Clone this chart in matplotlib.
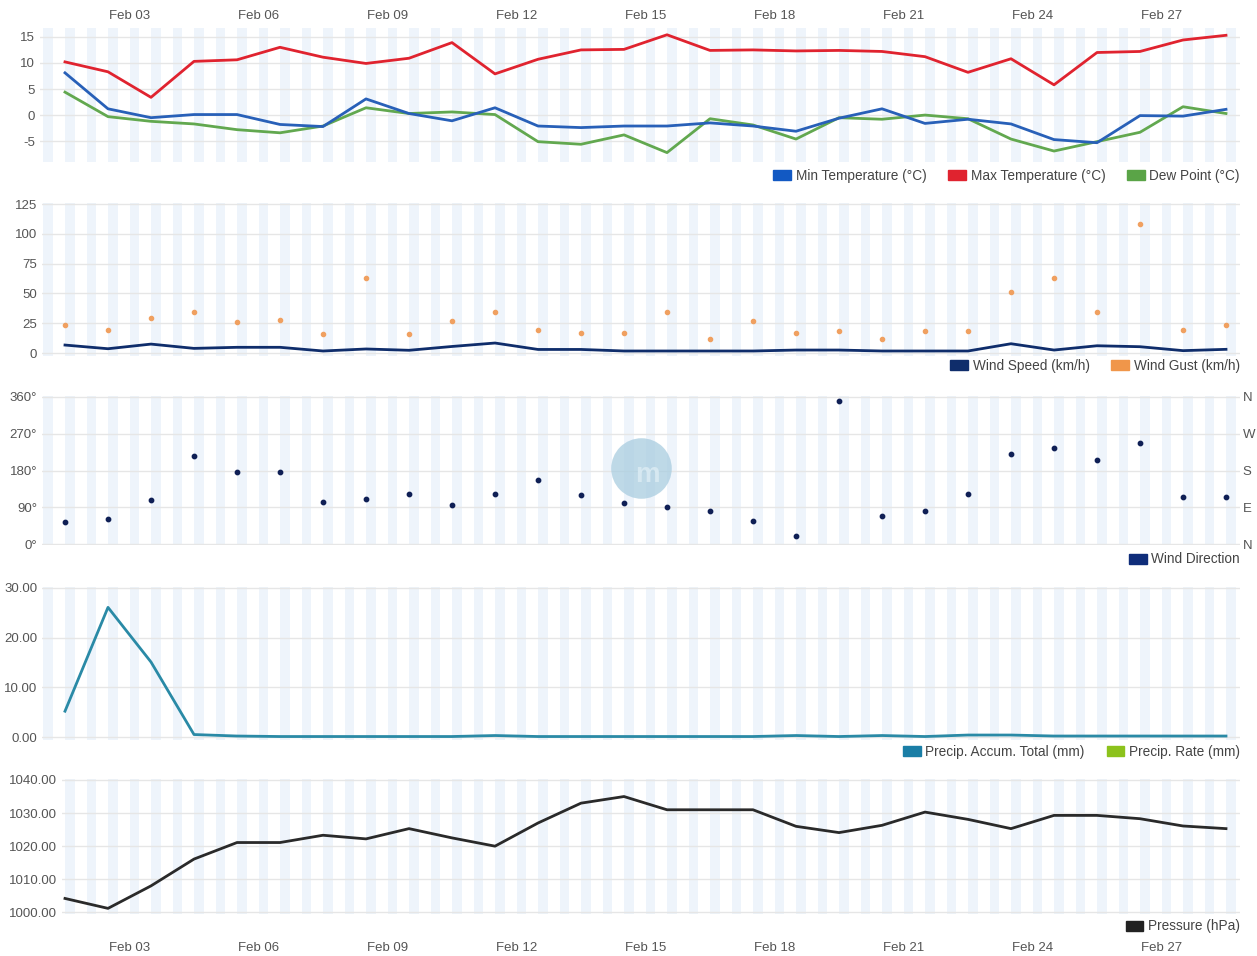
"""Monthly weather summary panels (February)."""

import matplotlib

matplotlib.use("Agg")
import matplotlib.pyplot as plt
import numpy as np
from matplotlib.patches import Patch

plt.rcParams["font.family"] = ["Liberation Sans", "DejaVu Sans"]

# one reading per day, plotted at noon (day number 1.5 = Feb 01 12:00)
days = np.arange(1, 29) + 0.5

min_temp = [8.1, 1.2, -0.5, 0.1, 0.1, -1.8, -2.2, 3.1, 0.3, -1.1, 1.4, -2.1, -2.4, -2.1,
            -2.1, -1.5, -2.1, -3.1, -0.6, 1.2, -1.6, -0.8, -1.7, -4.7, -5.3, -0.1, -0.2, 1.1]
max_temp = [10.2, 8.3, 3.4, 10.3, 10.6, 13.0, 11.1, 9.9, 10.9, 13.9, 7.9, 10.7, 12.5, 12.6,
            15.4, 12.4, 12.5, 12.3, 12.4, 12.2, 11.2, 8.2, 10.8, 5.8, 12.0, 12.2, 14.4, 15.3]
dew_point = [4.4, -0.3, -1.2, -1.7, -2.8, -3.4, -2.1, 1.4, 0.3, 0.6, 0.1, -5.1, -5.6, -3.8,
             -7.2, -0.7, -1.9, -4.6, -0.5, -0.8, 0.0, -0.7, -4.6, -6.9, -5.1, -3.3, 1.6, 0.3]

wind_speed = [6.7, 3.6, 7.5, 3.9, 4.8, 4.8, 1.7, 3.4, 2.3, 5.5, 8.4, 3.0, 3.0, 1.7,
              1.7, 1.7, 1.7, 2.5, 2.5, 1.7, 1.7, 1.7, 7.8, 2.5, 6.1, 5.3, 2.0, 3.1]
wind_gust = [23.5, 19, 29.6, 34.2, 26.3, 27.4, 16.2, 63.1, 16.2, 27, 34.2, 19.5, 16.5, 16.5,
             34.2, 11.5, 27, 16.5, 18.5, 11.7, 18.5, 18.5, 51.5, 63.3, 34.2, 108, 19.4, 23.7]

wind_dir = [55, 61, 109, 215, 177, 177, 103, 111, 122, 96, 123, 157, 121, 101,
            92, 80, 57, 19, 351, 68, 80, 123, 220, 234, 206, 246, 116, 115]

precip_total = [5.2, 26.1, 15.1, 0.5, 0.2, 0.1, 0.1, 0.1, 0.1, 0.1, 0.3, 0.1, 0.1, 0.1,
                0.1, 0.1, 0.1, 0.3, 0.1, 0.3, 0.1, 0.4, 0.4, 0.2, 0.2, 0.2, 0.2, 0.2]
precip_rate = [np.nan] * 28

pressure = [1004.2, 1001.2, 1008, 1016.1, 1021.1, 1021.1, 1023.3, 1022.2, 1025.3, 1022.5,
            1020, 1027, 1033, 1035, 1031, 1031, 1031, 1026, 1024.1, 1026.3, 1030.3, 1028.1,
            1025.3, 1029.3, 1029.3, 1028.3, 1026.1, 1025.3]

tick_days = [3, 6, 9, 12, 15, 18, 21, 24, 27]
tick_labels = ["Feb %02d" % d for d in tick_days]

TXT = "#555555"
GRID = "#e6e6e6"
STRIPE = "#eef4fb"

fig = plt.figure(figsize=(12.57, 9.56), dpi=100)
W, H = 1257.0, 956.0
PX_PER_DAY = 43.0
# (left px, top px, bottom px) of each panel's plot area
frames = [(40, 28, 162), (42, 203, 356), (42, 396, 545), (42, 587, 740), (62, 779, 914)]
axes = []
for lpx, tpx, bpx in frames:
    ax = fig.add_axes([lpx / W, 1 - bpx / H, (1240 - lpx) / W, (bpx - tpx) / H])
    ax.set_xlim(1.5 - (65 - lpx) / PX_PER_DAY, 1.5 + (1240 - 65) / PX_PER_DAY)
    axes.append(ax)


def style(ax, ylim, yticks, ylabels):
    ax.set_ylim(*ylim)
    x_lo, x_hi = ax.get_xlim()
    for k in range(58):
        x0 = 1.0 + 0.5 * k
        if x0 >= x_hi:
            break
        ax.axvspan(max(x0, x_lo), x0 + 0.23, color=STRIPE, lw=0, zorder=0)
    ax.set_xlim(x_lo, x_hi)
    ax.set_yticks(yticks)
    ax.set_yticklabels(ylabels)
    for y in yticks:
        ax.axhline(y, color=GRID, lw=1, zorder=1)
    for s in ax.spines.values():
        s.set_visible(False)
    ax.tick_params(axis="both", length=0, colors=TXT, labelsize=9.5)
    ax.set_xticks(tick_days)
    ax.set_xticklabels([])


def legend(ax, handles, labels, y=-0.03):
    ax.legend(handles, labels, loc="upper right", bbox_to_anchor=(1.0, y), ncol=len(labels),
              frameon=False, fontsize=9.8, handlelength=1.3, handleheight=0.75,
              handletextpad=0.35, columnspacing=1.6, borderaxespad=0, borderpad=0,
              labelcolor="#444444")


# temperatures
ax = axes[0]
style(ax, (-9, 16.7), [-5, 0, 5, 10, 15], ["-5", "0", "5", "10", "15"])
ax.plot(days, min_temp, color="#2860b8", lw=2, zorder=3)
ax.plot(days, max_temp, color="#e0232f", lw=2, zorder=3)
ax.plot(days, dew_point, color="#62a84f", lw=2, zorder=2)
ax.tick_params(axis="x", labeltop=True, labelbottom=False, pad=4)
ax.set_xticklabels(tick_labels)
legend(ax, [Patch(color="#1259c3"), Patch(color="#e0232f"), Patch(color="#5aa447")],
       ["Min Temperature (°C)", "Max Temperature (°C)", "Dew Point (°C)"], y=-0.05)

# wind speed / gust
ax = axes[1]
style(ax, (-2.5, 126), [0, 25, 50, 75, 100, 125], ["0", "25", "50", "75", "100", "125"])
ax.plot(days, wind_speed, color="#0f2d6b", lw=2, zorder=3)
ax.scatter(days, wind_gust, s=9, color="#f0a060", zorder=3)
legend(ax, [Patch(color="#0f2d6b"), Patch(color="#f0964a")],
       ["Wind Speed (km/h)", "Wind Gust (km/h)"], y=-0.02)

# wind direction
ax = axes[2]
style(ax, (-2, 362), [0, 90, 180, 270, 360], ["0°", "90°", "180°", "270°", "360°"])
# faint site watermark
ax.scatter([0.5], [0.52], s=1900, color="#a9cde0", alpha=0.75, lw=0,
           transform=ax.transAxes, zorder=1)
ax.text(0.505, 0.47, "m", transform=ax.transAxes, ha="center", va="center",
        fontsize=20, fontweight="bold", color="#d6e8f1", zorder=1)
ax.scatter(days, wind_dir, s=10, color="#0f1f55", zorder=3)
ax2 = ax.twinx()
ax2.set_ylim(-2, 362)
ax2.set_yticks([0, 90, 180, 270, 360])
ax2.set_yticklabels(["N", "E", "S", "W", "N"])
for s in ax2.spines.values():
    s.set_visible(False)
ax2.tick_params(axis="y", length=0, colors=TXT, labelsize=9.5, pad=2)
legend(ax, [Patch(color="#0f2d7a")], ["Wind Direction"], y=-0.05)

# precipitation
ax = axes[3]
style(ax, (-0.6, 30.2), [0, 10, 20, 30], ["0.00", "10.00", "20.00", "30.00"])
ax.plot(days, precip_rate, color="#8cc21c", lw=2, zorder=2)
ax.plot(days, precip_total, color="#2a8aa6", lw=2, zorder=3)
legend(ax, [Patch(color="#1a7ea6"), Patch(color="#8cc21c")],
       ["Precip. Accum. Total (mm)", "Precip. Rate (mm)"], y=-0.03)

# pressure
ax = axes[4]
style(ax, (999.5, 1040.3), [1000, 1010, 1020, 1030, 1040],
      ["1000.00", "1010.00", "1020.00", "1030.00", "1040.00"])
ax.plot(days, pressure, color="#2a2a2a", lw=2, zorder=3)
ax.tick_params(axis="x", labelbottom=True, pad=20)
ax.set_xticklabels(tick_labels)
legend(ax, [Patch(color="#222222")], ["Pressure (hPa)"], y=-0.04)

fig.savefig("out.png", dpi=100)
